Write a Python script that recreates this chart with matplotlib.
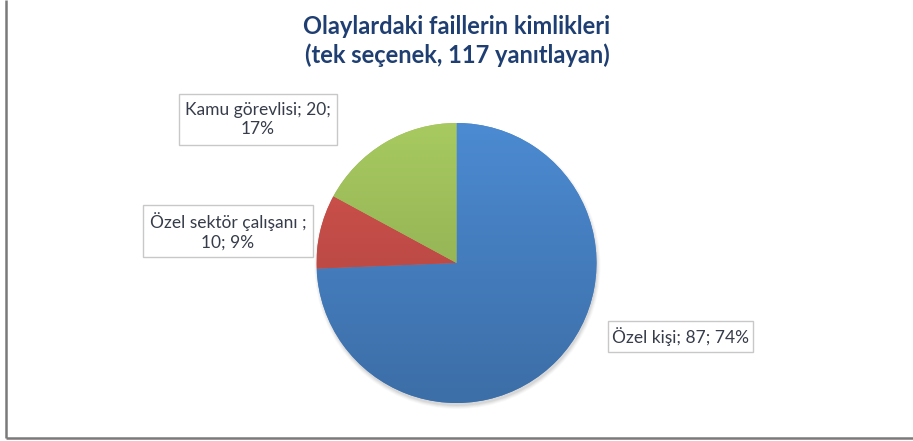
import matplotlib
matplotlib.use("Agg")
import matplotlib.pyplot as plt
import numpy as np
from matplotlib.patches import Rectangle, Circle
from matplotlib.colors import to_rgb

# ---- data ----
categories = ["Özel kişi", "Özel sektör çalışanı ", "Kamu görevlisi"]
counts = [87, 10, 20]
percents = [74, 9, 17]
colors = ["#4680c2", "#c44d48", "#9bbb59"]
title_lines = ["Olaylardaki faillerin kimlikleri", "(tek seçenek, 117 yanıtlayan)"]

W, H = 913, 441
fig = plt.figure(figsize=(W / 100, H / 100), dpi=100)
ax = fig.add_axes([0, 0, 1, 1])
ax.set_xlim(0, W)
ax.set_ylim(0, H)
ax.axis("off")

def Y(y):  # convert top-down pixel coordinate
    return H - y

cx, cy, r = 456.5, 263, 140

# soft shadow
for i, a in enumerate([0.05, 0.07, 0.09, 0.12]):
    ax.add_patch(Circle((cx + 1, Y(cy) - 3), r + 3 - i, color="#808080", alpha=a, lw=0, zorder=1))

wedges, _ = ax.pie(counts, colors=colors, startangle=90, counterclock=False,
                   center=(cx, Y(cy)), radius=r, frame=True,
                   wedgeprops=dict(linewidth=0, zorder=2))
ax.set_xlim(0, W)
ax.set_ylim(0, H)
ax.set_aspect("auto")
ax.axis("off")

# gentle vertical gradient on each slice
for w, c in zip(wedges, colors):
    base = np.array(to_rgb(c))
    t = np.linspace(0, 1, 256)[:, None]
    top = np.clip(base * 1.08, 0, 1)
    bot = base * 0.86
    grad = top[None, :] * (1 - t[..., None]) + bot[None, :] * t[..., None]
    grad = np.repeat(grad, 2, axis=1)
    im = ax.imshow(grad, extent=(cx - r, cx + r, Y(cy + r), Y(cy - r)),
                   aspect="auto", zorder=3, origin="upper")
    im.set_clip_path(w)

ax.set_xlim(0, W)
ax.set_ylim(0, H)

# border lines (left & bottom)
ax.plot([6, 6], [Y(0), Y(438)], color="#7a7a7a", lw=1.8, zorder=5, solid_capstyle="butt")
ax.plot([6, W], [Y(438), Y(438)], color="#7a7a7a", lw=1.8, zorder=5, solid_capstyle="butt")

# title
tc = "#1f3f72"
ax.text(457, Y(26), title_lines[0], ha="center", va="center", fontsize=17,
        fontweight="bold", color=tc, family="Lato")
ax.text(457, Y(55), title_lines[1], ha="center", va="center", fontsize=17,
        fontweight="bold", color=tc, family="Lato")

# labels
label_texts = [
    f"{categories[0]}; {counts[0]}; {percents[0]}%",
    f"{categories[1]};\n{counts[1]}; {percents[1]}%",
    f"{categories[2]}; {counts[2]};\n{percents[2]}%",
]
boxes = [(608, 321, 753, 352), (143, 205, 313, 257), (179, 94, 337, 145)]
lc = "#363c4a"
for txt, (x0, y0, x1, y1) in zip(label_texts, boxes):
    ax.add_patch(Rectangle((x0, Y(y1)), x1 - x0, y1 - y0, facecolor="white",
                           edgecolor="#c8c8c8", lw=1.0, zorder=6))
    ax.text((x0 + x1) / 2, Y((y0 + y1) / 2), txt, ha="center", va="center",
            fontsize=12.5, color=lc, family="Lato", linespacing=1.3, zorder=7)

fig.savefig("out.png", dpi=100)
